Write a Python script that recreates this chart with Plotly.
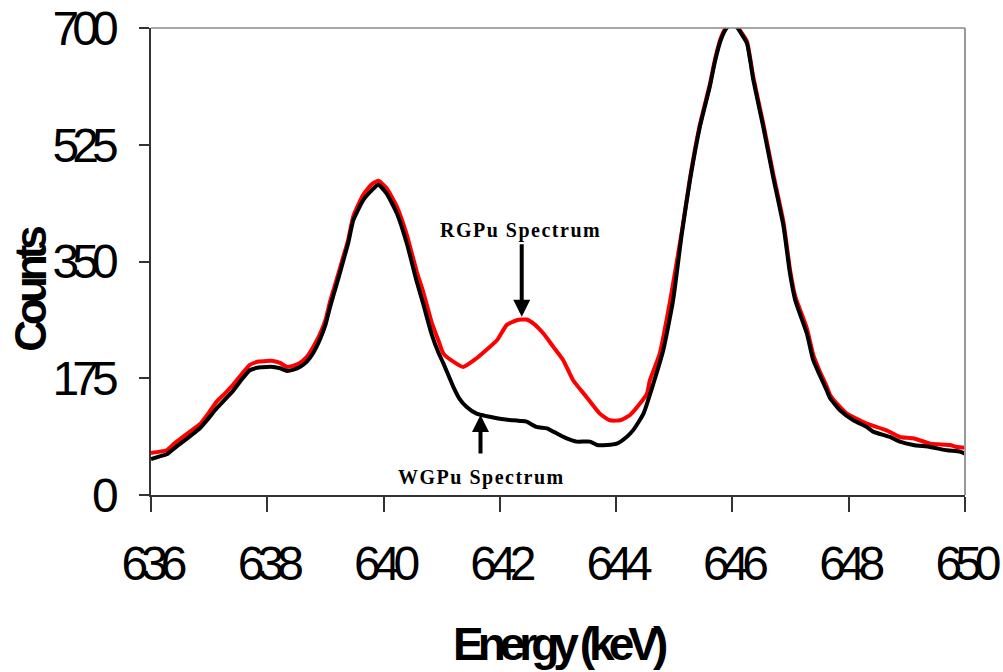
import plotly.graph_objects as go

# WGPu spectrum (black)
wg_energy = [636.00, 636.15, 636.27, 636.40, 636.55, 636.70, 636.84, 637.00, 637.13, 637.27,
             637.41, 637.55, 637.70, 637.85, 637.99, 638.10, 638.22, 638.34, 638.45, 638.56,
             638.68, 638.79, 638.90, 639.00, 639.08, 639.20, 639.31, 639.39, 639.48, 639.65,
             639.80, 639.91, 640.05, 640.23, 640.40, 640.57, 640.68, 640.83, 640.95, 641.03,
             641.20, 641.30, 641.43, 641.60, 641.78, 641.95, 642.10, 642.23, 642.35, 642.46,
             642.63, 642.81, 642.92, 643.03, 643.15, 643.32, 643.55, 643.67, 643.84, 644.01,
             644.18, 644.30, 644.47, 644.64, 644.81, 644.98, 645.13, 645.27, 645.44, 645.61,
             645.70, 645.80, 645.90, 646.00, 646.07, 646.15, 646.25, 646.36, 646.53, 646.70,
             646.88, 646.99, 647.08, 647.28, 647.39, 647.50, 647.62, 647.68, 647.85, 648.08,
             648.31, 648.42, 648.71, 648.88, 649.11, 649.40, 649.69, 649.91, 650.00]
wg_counts = [54, 58, 61, 70, 80, 90, 100, 116, 130, 143,
             156, 172, 187, 191, 192, 192, 190, 186, 188, 192,
             200, 213, 232, 255, 282, 318, 352, 377, 412, 442,
             457, 465, 452, 422, 377, 320, 287, 240, 212, 197,
             162, 145, 132, 122, 118, 115, 113, 112, 111, 110,
             102, 100, 95, 90, 85, 80, 80, 75, 75, 77,
             87, 98, 122, 167, 217, 292, 392, 472, 552, 612,
             650, 682, 700, 706, 702, 692, 677, 622, 552, 477,
             402, 332, 292, 242, 202, 180, 157, 145, 127, 112,
             102, 95, 87, 80, 75, 72, 67, 65, 62]

# RGPu spectrum (red)
rg_energy = [636.00, 636.15, 636.27, 636.40, 636.55, 636.70, 636.84, 637.00, 637.13, 637.27,
             637.41, 637.55, 637.70, 637.85, 637.99, 638.10, 638.22, 638.34, 638.45, 638.56,
             638.68, 638.79, 638.90, 639.00, 639.08, 639.20, 639.31, 639.39, 639.48, 639.65,
             639.80, 639.91, 640.05, 640.23, 640.40, 640.57, 640.68, 640.83, 640.95, 641.03,
             641.20, 641.37, 641.60, 641.80, 641.95, 642.12, 642.29, 642.46, 642.58, 642.75,
             642.92, 643.09, 643.26, 643.49, 643.72, 643.89, 644.07, 644.24, 644.41, 644.53,
             644.58, 644.75, 644.93, 645.13, 645.27, 645.44, 645.61, 645.70, 645.80, 645.90,
             646.00, 646.07, 646.15, 646.25, 646.36, 646.53, 646.70, 646.88, 646.99, 647.08,
             647.28, 647.39, 647.50, 647.62, 647.68, 647.85, 647.97, 648.19, 648.31, 648.65,
             648.88, 649.11, 649.40, 649.74, 649.86, 650.00]
rg_counts = [63, 65, 67, 77, 87, 97, 106, 124, 140, 152,
             165, 180, 195, 200, 201, 201, 198, 192, 194, 198,
             207, 222, 240, 262, 290, 325, 358, 382, 418, 450,
             466, 471, 460, 432, 390, 335, 305, 258, 230, 212,
             200, 192, 205, 220, 232, 255, 262, 263, 257, 242,
             222, 202, 172, 147, 122, 112, 112, 120, 137, 152,
             172, 212, 292, 395, 475, 555, 615, 653, 685, 702,
             708, 704, 694, 680, 626, 557, 482, 408, 338, 298,
             250, 210, 186, 163, 150, 132, 122, 112, 107, 97,
             87, 85, 77, 75, 72, 71]

x_ticks = [636, 638, 640, 642, 644, 646, 648, 650]
y_ticks = [0, 175, 350, 525, 700]


def tight(s, sp):
    return f"<span style='letter-spacing:{sp}px'>{s}</span>"


fig = go.Figure()
fig.add_trace(go.Scatter(x=rg_energy, y=rg_counts, mode="lines", name="RGPu",
                         line=dict(color="#ff0000", width=4, shape="spline", smoothing=0.5)))
fig.add_trace(go.Scatter(x=wg_energy, y=wg_counts, mode="lines", name="WGPu",
                         line=dict(color="#000000", width=4, shape="spline", smoothing=0.5)))

tickfont = dict(family="Liberation Sans, Arial, sans-serif", size=48, color="#000")

fig.update_layout(
    width=1003, height=672,
    margin=dict(l=151, r=38, t=28, b=177),
    plot_bgcolor="white", paper_bgcolor="white",
    showlegend=False,
    xaxis=dict(range=[636, 650], tickvals=x_ticks,
               ticktext=[tight(str(v), -7) for v in x_ticks],
               ticks="outside", ticklen=15, tickwidth=1.5, tickcolor="#333",
               showline=True, linecolor="#333", linewidth=1.5,
               showgrid=False, zeroline=False, tickfont=tickfont,
               ticklabelstandoff=11, automargin=False, ticklabeloverflow="allow"),
    yaxis=dict(range=[0, 700], tickvals=y_ticks,
               ticktext=[tight(str(v), -7) for v in y_ticks],
               ticks="outside", ticklen=10, tickwidth=1.5, tickcolor="#333",
               showline=True, linecolor="#333", linewidth=1.5,
               showgrid=False, zeroline=False, tickfont=tickfont,
               ticklabelstandoff=18, automargin=False, ticklabeloverflow="allow"),
)

# top and right frame in gray
fig.add_shape(type="line", xref="paper", yref="paper", x0=0, x1=1, y0=1, y1=1,
              line=dict(color="#888", width=1.5))
fig.add_shape(type="line", xref="paper", yref="paper", x0=1, x1=1, y0=0, y1=1,
              line=dict(color="#999", width=2))

titlefont = dict(family="Liberation Sans, Arial, sans-serif", size=46, color="#000")
fig.add_annotation(text="<b>" + tight("Energy (keV)", -6) + "</b>", xref="paper", yref="paper",
                   x=0.5025, y=-0.319, xanchor="center", yanchor="middle",
                   showarrow=False, font=titlefont)
fig.add_annotation(text="<b>" + tight("Counts", -5) + "</b>", xref="paper", yref="paper",
                   x=-0.149, y=0.441, xanchor="center", yanchor="middle", textangle=-90,
                   showarrow=False, font=dict(family="Liberation Sans, Arial, sans-serif", size=44, color="#000"))

labfont = dict(family="Liberation Serif, Times New Roman, serif", size=20, color="#000")
fig.add_annotation(text="<b>" + tight("RGPu Spectrum", 1.5) + "</b>", x=642.347, y=396,
                   xanchor="center", yanchor="middle", showarrow=False, font=labfont)
fig.add_annotation(text="<b>" + tight("WGPu Spectrum", 1.5) + "</b>", x=641.676, y=25.5,
                   xanchor="center", yanchor="middle", showarrow=False, font=labfont)

# arrows
fig.add_annotation(text="", x=642.376, y=267, ax=642.376, ay=378, axref="x", ayref="y",
                   showarrow=True, arrowhead=2, arrowsize=0.85, arrowwidth=4, arrowcolor="#000")
fig.add_annotation(text="", x=641.667, y=120, ax=641.667, ay=60, axref="x", ayref="y",
                   showarrow=True, arrowhead=2, arrowsize=0.85, arrowwidth=4, arrowcolor="#000")

fig.write_html("out.html", config={"displayModeBar": False},
               post_script="document.body.style.margin='0';document.body.style.overflow='hidden';")
